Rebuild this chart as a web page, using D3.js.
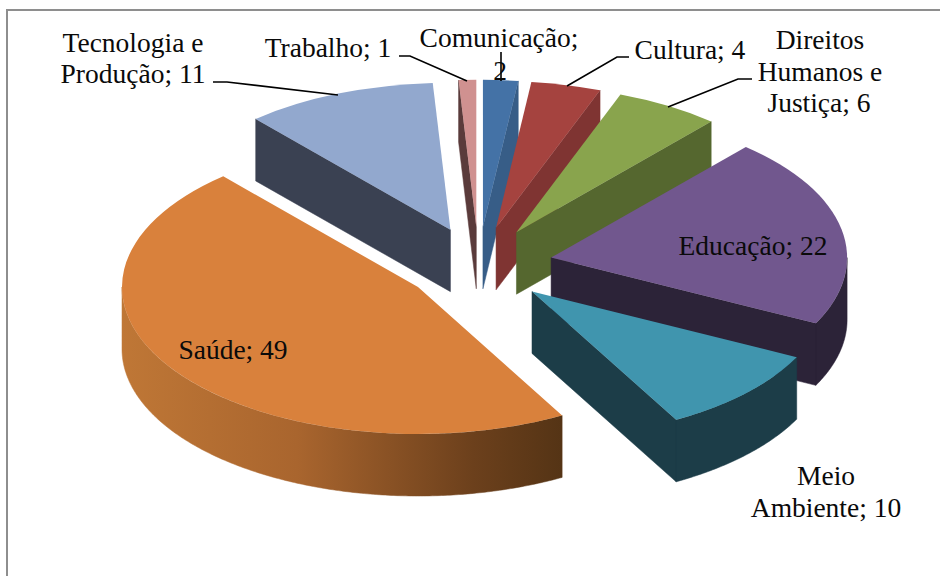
<!DOCTYPE html>
<html>
<head>
<meta charset="utf-8">
<script src="https://cdn.jsdelivr.net/npm/d3@7/dist/d3.min.js"></script>
<style>
html, body { margin: 0; padding: 0; background: #fff; }
svg { display: block; }
text { font-family: "Liberation Serif", serif; font-size: 27.5px; fill: #0a0a0a; text-anchor: middle; }
</style>
</head>
<body>
<div id="chart"></div>
<script>
var categories = ["Comunicação", "Cultura", "Direitos Humanos e Justiça", "Educação", "Meio Ambiente", "Saúde", "Tecnologia e Produção", "Trabalho"];
var values = [2, 4, 6, 22, 10, 49, 11, 1];
var topColors = ["#4472a6", "#a5433f", "#89a44d", "#71578e", "#4095ae", "#d9813c", "#92a8ce", "#d09190"];
var wallColors = ["#375d87", "#7f3432", "#55672f", "#2c2338", "#1c3d48", "url(#saudeWall)", "#3a4152", "#5a3b3b"];
// back slices first, front slices paint over them
var drawOrder = [7, 6, 0, 1, 2, 3, 4, 5];

// one line per text row: [text, centre x, baseline y]
var labelRows = [
  ["Tecnologia e", 133, 52], ["Produção; 11", 133, 83],
  ["Trabalho; 1", 328, 57],
  ["Comunicação;", 499, 47], ["2", 500, 80],
  ["Cultura; 4", 690, 59],
  ["Direitos", 820, 49], ["Humanos e", 820, 81], ["Justiça; 6", 819, 112],
  ["Educação; 22", 753, 255],
  ["Saúde; 49", 233, 359],
  ["Meio", 826, 485], ["Ambiente; 10", 826, 517]
];
var leaders = [
  [[213, 82], [227, 82], [338, 95]],
  [[399, 56], [410, 56], [467, 81]],
  [[501, 52], [501, 81]],
  [[629, 57], [617, 57], [567, 86]],
  [[752, 79], [738, 79], [668, 107]]
];

var width = 940, height = 576;
var cx = 478.5, cy = 265, radiusX = 296, radiusY = 147, depth = 62;
var explodeX = 0.25, explodeY = 0.26;

var svg = d3.select("#chart").append("svg")
  .attr("width", width)
  .attr("height", height);

// frame runs off the right and bottom of the picture
svg.append("rect")
  .attr("x", 7).attr("y", 10)
  .attr("width", 1000).attr("height", 1000)
  .style("fill", "#fff")
  .style("stroke", "#8e8e8e").style("stroke-width", 2);

var xScale = d3.scaleLinear().domain([-1, 1]).range([cx - radiusX, cx + radiusX]);
var yScale = d3.scaleLinear().domain([-1, 1]).range([cy + radiusY, cy - radiusY]);

var grad = svg.append("defs").append("linearGradient")
  .attr("id", "saudeWall")
  .attr("gradientUnits", "userSpaceOnUse")
  .attr("x1", 122).attr("x2", 561).attr("y1", 0).attr("y2", 0);
grad.append("stop").attr("offset", "0%").attr("stop-color", "#bf7736");
grad.append("stop").attr("offset", "40%").attr("stop-color", "#a9652e");
grad.append("stop").attr("offset", "80%").attr("stop-color", "#6c401c");
grad.append("stop").attr("offset", "100%").attr("stop-color", "#553415");

var pie = d3.pie().sort(null);
var slices = pie(values);

function drawSlice(i) {
  var s = slices[i];
  var mid = (s.startAngle + s.endAngle) / 2;
  var ox = explodeX * Math.sin(mid), oy = explodeY * Math.cos(mid);
  function px(a, r) { return xScale(ox + r * Math.sin(a)); }
  function py(a, r) { return yScale(oy + r * Math.cos(a)); }

  var g = svg.append("g").attr("class", "slice").datum(s);
  var line = d3.line();
  var wall = "";

  // radial side walls, only the ones facing the viewer
  var sideAngles = [];
  if (Math.sin(s.startAngle) < 0) sideAngles.push(s.startAngle);
  if (Math.sin(s.endAngle) > 0) sideAngles.push(s.endAngle);
  sideAngles.forEach(function(a) {
    wall += line([
      [px(a, 1), py(a, 1)], [px(a, 0), py(a, 0)],
      [px(a, 0), py(a, 0) + depth], [px(a, 1), py(a, 1) + depth]
    ]) + "Z";
  });

  // outer wall, front half of the ellipse
  var from = Math.max(s.startAngle, Math.PI / 2), to = Math.min(s.endAngle, Math.PI * 1.5);
  if (to > from) {
    var steps = d3.range(from, to, 0.01).concat([to]);
    wall += d3.area()
      .x(function(a) { return px(a, 1); })
      .y0(function(a) { return py(a, 1); })
      .y1(function(a) { return py(a, 1) + depth; })(steps);
  }

  // same path for both walls so no seam shows between them
  if (wall) {
    g.append("path")
      .attr("d", wall)
      .style("fill", wallColors[i])
      .style("stroke", wallColors[i]).style("stroke-width", 0.5);
  }

  // top face
  var arc = d3.arc().innerRadius(0).outerRadius(radiusX);
  g.append("path")
    .attr("transform", "translate(" + px(0, 0) + "," + py(0, 0) + ") scale(1," + (radiusY / radiusX) + ")")
    .attr("d", arc(s))
    .style("fill", topColors[i]);
}

drawOrder.forEach(drawSlice);

svg.append("g").selectAll("polyline")
  .data(leaders)
  .enter().append("polyline")
    .attr("points", function(d) { return d.join(" "); })
    .style("fill", "none")
    .style("stroke", "#000").style("stroke-width", 1.6);

svg.append("g").selectAll("text")
  .data(labelRows)
  .enter().append("text")
    .attr("x", function(d) { return d[1]; })
    .attr("y", function(d) { return d[2]; })
    .text(function(d) { return d[0]; });
</script>
</body>
</html>
